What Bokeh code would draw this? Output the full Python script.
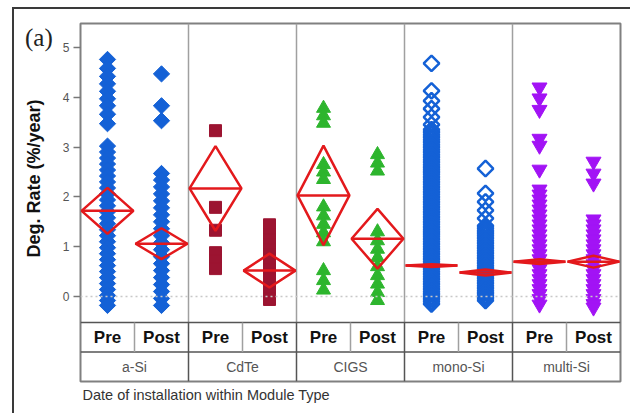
import math
from bokeh.plotting import figure
from bokeh.models import Range1d, FixedTicker, Span, Title, Div
from bokeh.layouts import column
from bokeh.core.properties import value
from bokeh.embed import file_html
from bokeh.resources import INLINE

# ---------------- data ----------------
modules = ["a-Si", "CdTe", "CIGS", "mono-Si", "multi-Si"]
periods = ["Pre", "Post"]
y_ticks = [0, 1, 2, 3, 4, 5]

a_si_pre = [4.76, 4.58, 4.42, 4.27, 4.12, 3.97, 3.83, 3.66, 3.47,
            3.02, 2.9, 2.78, 2.66, 2.54, 2.42, 2.3, 2.18, 2.06, 1.94, 1.82,
            1.7, 1.58, 1.46, 1.34, 1.22, 1.1, 0.98, 0.86, 0.74, 0.62, 0.5,
            0.38, 0.26, 0.14, 0.02, -0.08, -0.18]
a_si_post = [4.47, 3.83, 3.53, 2.47, 2.34, 2.2, 2.06, 1.92, 1.78, 1.64, 1.5,
             1.36, 1.22, 1.08, 0.94, 0.8, 0.66, 0.52, 0.38, 0.24, 0.1, -0.04, -0.18]
cdte_pre = [3.33, 1.79, 1.33, 0.88, 0.72, 0.56]
cdte_post = [1.44, 1.34, 1.24, 1.14, 1.04, 0.94, 0.84, 0.74, 0.64, 0.54, 0.44,
             0.34, 0.24, 0.14, 0.04, -0.06]
cigs_pre = [3.78, 3.63, 3.48, 2.65, 2.5, 2.35, 1.8, 1.62, 1.45, 1.28, 1.1,
            0.52, 0.32, 0.13]
cigs_post = [2.85, 2.68, 2.52, 1.3, 1.12, 0.95, 0.78, 0.6, 0.42, 0.25, 0.08, -0.08]
mono_pre = [4.68, 4.13, 3.93, 3.77, 3.6, 3.45,
            3.35, 3.3, 3.25, 3.2, 3.15, 3.1, 3.05, 3.0, 2.95, 2.9, 2.85, 2.8,
            2.75, 2.7, 2.65, 2.6, 2.55, 2.5, 2.45, 2.4, 2.35, 2.3, 2.25, 2.2,
            2.15, 2.1, 2.05, 2.0, 1.95, 1.9, 1.85, 1.8, 1.75, 1.7, 1.65, 1.6,
            1.55, 1.5, 1.45, 1.4, 1.35, 1.3, 1.25, 1.2, 1.15, 1.1, 1.05, 1.0,
            0.95, 0.9, 0.85, 0.8, 0.75, 0.7, 0.65, 0.6, 0.55, 0.5, 0.45, 0.4,
            0.35, 0.3, 0.25, 0.2, 0.15, 0.1, 0.05, 0.0, -0.05, -0.1, -0.15]
mono_post = [2.57, 2.07, 1.9, 1.73, 1.57,
             1.42, 1.37, 1.32, 1.27, 1.22, 1.17, 1.12, 1.07, 1.02, 0.97, 0.92,
             0.87, 0.82, 0.77, 0.72, 0.67, 0.62, 0.57, 0.52, 0.47, 0.42, 0.37,
             0.32, 0.27, 0.22, 0.17, 0.12, 0.07, 0.02, -0.03, -0.08]
multi_pre = [4.2, 3.98, 3.75, 3.17, 3.03, 2.55, 2.15, 2.05, 1.95, 1.85, 1.75,
             1.65, 1.55, 1.45, 1.35, 1.25, 1.15, 1.05, 0.95, 0.85, 0.75, 0.65,
             0.55, 0.45, 0.35, 0.25, 0.15, 0.05, -0.05, -0.16]
multi_post = [2.71, 2.47, 2.27, 1.55, 1.45, 1.35, 1.25, 1.15, 1.05, 0.95, 0.85,
              0.75, 0.65, 0.55, 0.45, 0.35, 0.25, 0.15, 0.05, -0.05, -0.15, -0.22]

groups = [a_si_pre, a_si_post, cdte_pre, cdte_post, cigs_pre, cigs_post,
          mono_pre, mono_post, multi_pre, multi_post]
group_means = [1.72, 1.06, 2.17, 0.52, 2.03, 1.16, 0.62, 0.48, 0.70, 0.70]
group_ci = [0.46, 0.31, 0.85, 0.34, 1.0, 0.6, 0.03, 0.06, 0.05, 0.12]

# ---------------- styles ----------------
styles = {
    "a-Si": dict(marker="square", angle=math.pi / 4, size=11.5,
                 fill_color="#1461D6", line_color="#1461D6"),
    "CdTe": dict(marker="square", angle=0, size=12,
                 fill_color="#9C1431", line_color="#9C1431"),
    "CIGS": dict(marker="triangle", angle=0, size=14,
                 fill_color="#2DB52D", line_color="#2DB52D"),
    "mono-Si": dict(marker="square", angle=math.pi / 4, size=11,
                    fill_color=None, line_color="#1461D6", line_width=2.5),
    "multi-Si": dict(marker="inverted_triangle", angle=0, size=15,
                     fill_color="#A213F5", line_color="#A213F5"),
}

Y0, Y1 = -1.707, 5.482
PLOT_BOTTOM = -0.522

p = figure(width=616, height=404, output_backend="svg", toolbar_location=None,
           x_range=Range1d(0, 10), y_range=Range1d(Y0, Y1),
           min_border_left=66, min_border_right=10, min_border_top=14,
           min_border_bottom=32)
p.extra_y_ranges = {"table": Range1d(0, 12.136)}
p.background_fill_color = "white"
p.border_fill_color = "white"
p.grid.visible = False
p.xaxis.visible = False
p.outline_line_color = "#808080"
p.outline_line_width = 2

ax = p.yaxis[0]
ax.ticker = FixedTicker(ticks=y_ticks)
ax.axis_line_color = None
ax.major_tick_line_color = "#777777"
ax.major_tick_line_width = 1.5
ax.major_tick_out = 7
ax.major_tick_in = 0
ax.minor_tick_line_color = None
ax.major_label_text_font = "Liberation Sans"
ax.major_label_text_font_size = "12px"
ax.major_label_text_color = "#555555"
ax.major_label_standoff = 4
# blank axis label only reserves a little room between ticks and the title
ax.axis_label = " "
ax.axis_label_text_font_size = "10px"
ax.axis_label_standoff = 0

# zero dotted line
p.add_layout(Span(location=0, dimension="width", line_color="#c8c8c8",
                  line_dash="2 3", line_width=1.5))

n_groups = len(groups)
panel_x = [2 * k for k in range(1, len(modules))]
p.segment(x0=panel_x, x1=panel_x, y0=[PLOT_BOTTOM] * len(panel_x),
          y1=[Y1] * len(panel_x), line_color="#a0a0a0", line_width=1.5)

# points
for gi, vals in enumerate(groups):
    mod = modules[gi // 2]
    st = dict(styles[mod])
    p.scatter(x=[gi + 0.5] * len(vals), y=vals, **st)

# means diamonds
xs, ys = [], []
for gi in range(n_groups):
    m, c = group_means[gi], group_ci[gi]
    xl, xc, xr = gi + 0.02, gi + 0.5, gi + 0.98
    xs.append([xl, xc, xr, xc])
    ys.append([m, m + c, m, m - c])
p.patches(xs, ys, fill_alpha=0, line_color="#E3191C", line_width=2.5)
p.segment(x0=[gi + 0.02 for gi in range(n_groups)],
          x1=[gi + 0.98 for gi in range(n_groups)],
          y0=group_means, y1=group_means, line_color="#E3191C", line_width=2.5)

# table below plot
p.segment(x0=[0, 0], x1=[10, 10], y0=[2, 1], y1=[2, 1], y_range_name="table",
          line_color="#555555", line_width=1.5)
half_x = [2 * k + 1 for k in range(len(modules))]
p.segment(x0=half_x, x1=half_x, y0=[1] * len(half_x), y1=[2] * len(half_x),
          y_range_name="table", line_color="#a0a0a0", line_width=1.5)
p.segment(x0=panel_x, x1=panel_x, y0=[0] * len(panel_x), y1=[2] * len(panel_x),
          y_range_name="table", line_color="#555555", line_width=1.5)

p.text(x=[gi + 0.5 for gi in range(n_groups)], y=[1.5] * n_groups,
       text=periods * len(modules), y_range_name="table",
       text_font=value("Liberation Sans"), text_font_style="bold",
       text_font_size="17px", text_color="#111111",
       text_align="center", text_baseline="middle")
p.text(x=[2 * k + 1 for k in range(len(modules))], y=[0.5] * len(modules),
       text=modules, y_range_name="table",
       text_font=value("Liberation Sans"), text_font_size="14px",
       text_color="#555555", text_align="center", text_baseline="middle")

# texts outside the frame
p.add_layout(Title(text="Deg. Rate (%/year)", align="left", offset=124,
                   standoff=4, text_font="Liberation Sans",
                   text_font_style="bold", text_font_size="18px",
                   text_color="#111111"), "left")
p.add_layout(Title(text="Date of installation within Module Type", align="left",
                   offset=2, standoff=7, text_font="Liberation Sans",
                   text_font_style="normal", text_font_size="14.5px",
                   text_color="#333333"), "below")

panel_tag = Div(text="(a)", styles={"position": "absolute", "left": "6px",
                                     "top": "6px",
                                     "font-family": "Liberation Serif",
                                     "font-size": "25px", "color": "#222222"})

lay = column(p, panel_tag, styles={"border-left": "2px solid #3a3a3a",
                                   "border-top": "2px solid #3a3a3a",
                                   "margin-left": "12px", "margin-top": "7px"})

open("out.html", "w").write(file_html(lay, INLINE))
